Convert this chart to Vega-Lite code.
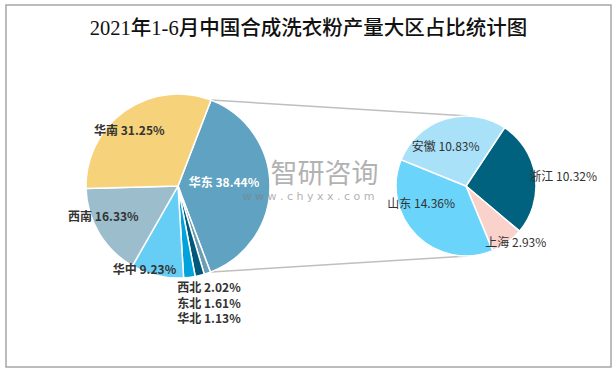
{
  "$schema": "https://vega.github.io/schema/vega-lite/v6.json",
  "width": 616,
  "height": 372,
  "autosize": {"type": "fit", "contains": "padding"},
  "padding": {"left": 6, "top": 5, "right": 5, "bottom": 5},
  "background": "white",
  "title": {
    "text": "2021年1-6月中国合成洗衣粉产量大区占比统计图",
    "font": "Liberation Serif, Noto Sans CJK SC",
    "fontSize": 20.5,
    "fontWeight": 500,
    "color": "#111111",
    "offset": -34,
    "anchor": "middle",
    "frame": "group"
  },
  "config": {"view": {"stroke": "#a6a6a6", "strokeWidth": 1.5}},
  "datasets": {
    "regions": [
      {"region": "华东", "share": 38.44, "rank": 1},
      {"region": "华北", "share": 1.13, "rank": 2},
      {"region": "东北", "share": 1.61, "rank": 3},
      {"region": "西北", "share": 2.02, "rank": 4},
      {"region": "华中", "share": 9.23, "rank": 5},
      {"region": "西南", "share": 16.33, "rank": 6},
      {"region": "华南", "share": 31.25, "rank": 7}
    ],
    "east": [
      {"region": "浙江", "share": 10.32, "rank": 1},
      {"region": "上海", "share": 2.93, "rank": 2},
      {"region": "山东", "share": 14.36, "rank": 3},
      {"region": "安徽", "share": 10.83, "rank": 4}
    ]
  },
  "layer": [
    {
      "data": {"values": [{"edge": "top"}]},
      "mark": {"type": "rule", "color": "#bfbfbf", "strokeWidth": 1.5, "xOffset": 33, "x2Offset": 2},
      "encoding": {
        "x": {"datum": "全国", "type": "nominal", "scale": {"type": "point", "domain": ["全国", "华东"], "range": [172, 460], "padding": 0}, "axis": null},
        "x2": {"datum": "华东"},
        "y": {"value": {"expr": "height/2-86"}},
        "y2": {"value": {"expr": "height/2-70"}}
      }
    },
    {
      "data": {"values": [{"edge": "bottom"}]},
      "mark": {"type": "rule", "color": "#bfbfbf", "strokeWidth": 1.5, "xOffset": 33, "x2Offset": 2},
      "encoding": {
        "x": {"datum": "全国", "type": "nominal", "axis": null},
        "x2": {"datum": "华东"},
        "y": {"value": {"expr": "height/2+86"}},
        "y2": {"value": {"expr": "height/2+70"}}
      }
    },
    {
      "data": {"name": "regions"},
      "transform": [{"calculate": "datum.region + ' ' + format(datum.share, '.2f') + '%'", "as": "label"}],
      "encoding": {
        "x": {"datum": "全国", "type": "nominal", "axis": null},
        "theta": {"field": "share", "type": "quantitative", "stack": true, "scale": {"range": [0.3665, 6.6497]}},
        "order": {"field": "rank", "type": "quantitative", "sort": "ascending"}
      },
      "layer": [
        {
          "mark": {"type": "arc", "radius": 92, "stroke": "white", "strokeWidth": 1.5},
          "encoding": {
            "color": {"field": "region", "type": "nominal", "legend": null,
              "scale": {"domain": ["华东", "华北", "东北", "西北", "华中", "西南", "华南"],
                        "range": ["#5fa2c2", "#6b9db3", "#00597a", "#00a3dc", "#66cdf5", "#9bbdcc", "#f6d37a"]}}
          }
        },
        {
          "mark": {"type": "text", "radius": 46, "dy": -3, "fill": "white", "font": "Noto Sans CJK SC", "fontSize": 12, "fontWeight": "bold"},
          "encoding": {
            "detail": {"field": "region"},
            "text": {"condition": {"test": "datum.region === '华东'", "field": "label"}, "value": ""}
          }
        },
        {
          "mark": {"type": "text", "radius": 74, "dx": -6, "dy": 5, "fill": "#333333", "font": "Noto Sans CJK SC", "fontSize": 12, "fontWeight": "bold"},
          "encoding": {
            "detail": {"field": "region"},
            "text": {"condition": {"test": "datum.region === '华南'", "field": "label"}, "value": ""}
          }
        },
        {
          "mark": {"type": "text", "radius": 80, "dx": -6, "dy": -10, "fill": "#333333", "font": "Noto Sans CJK SC", "fontSize": 12, "fontWeight": "bold"},
          "encoding": {
            "detail": {"field": "region"},
            "text": {"condition": {"test": "datum.region === '西南'", "field": "label"}, "value": ""}
          }
        },
        {
          "mark": {"type": "text", "radius": 86, "dx": -14, "fill": "#333333", "font": "Noto Sans CJK SC", "fontSize": 12, "fontWeight": "bold"},
          "encoding": {
            "detail": {"field": "region"},
            "text": {"condition": {"test": "datum.region === '华中'", "field": "label"}, "value": ""}
          }
        },
        {
          "transform": [{"filter": {"field": "region", "oneOf": ["西北", "东北", "华北"]}}],
          "mark": {"type": "text", "dx": 31, "fill": "#333333", "font": "Noto Sans CJK SC", "fontSize": 12, "fontWeight": "bold"},
          "encoding": {
            "theta": null,
            "order": null,
            "y": {"field": "region", "type": "nominal", "axis": null, "scale": {"type": "point", "domain": ["西北", "东北", "华北"], "range": [283, 314], "padding": 0}},
            "text": {"field": "label"}
          }
        }
      ]
    },
    {
      "data": {"name": "east"},
      "transform": [{"calculate": "datum.region + ' ' + format(datum.share, '.2f') + '%'", "as": "label"}],
      "encoding": {
        "x": {"datum": "华东", "type": "nominal", "axis": null},
        "theta": {"field": "share", "type": "quantitative", "stack": true, "scale": {"range": [0.5847, 6.8679]}},
        "order": {"field": "rank", "type": "quantitative", "sort": "ascending"}
      },
      "layer": [
        {
          "mark": {"type": "arc", "radius": 70, "stroke": "white", "strokeWidth": 1.5},
          "encoding": {
            "color": {"field": "region", "type": "nominal", "legend": null,
              "scale": {"domain": ["浙江", "上海", "山东", "安徽"],
                        "range": ["#00627f", "#f9d3cb", "#6ad4fa", "#a9e1f8"]}}
          }
        },
        {
          "mark": {"type": "text", "radius": 64, "align": "left", "fill": "#333333", "font": "Noto Sans CJK SC", "fontSize": 12},
          "encoding": {
            "detail": {"field": "region"},
            "text": {"condition": {"test": "datum.region === '浙江'", "field": "label"}, "value": ""}
          }
        },
        {
          "mark": {"type": "text", "radius": 76, "dx": 5, "dy": -4, "fill": "#333333", "font": "Noto Sans CJK SC", "fontSize": 12},
          "encoding": {
            "detail": {"field": "region"},
            "text": {"condition": {"test": "datum.region === '上海'", "field": "label"}, "value": ""}
          }
        },
        {
          "mark": {"type": "text", "radius": 48, "dx": -11, "dy": -16, "fill": "#333333", "font": "Noto Sans CJK SC", "fontSize": 12},
          "encoding": {
            "detail": {"field": "region"},
            "text": {"condition": {"test": "datum.region === '山东'", "field": "label"}, "value": ""}
          }
        },
        {
          "mark": {"type": "text", "radius": 45, "dx": -7, "dy": 4, "fill": "#333333", "font": "Noto Sans CJK SC", "fontSize": 12},
          "encoding": {
            "detail": {"field": "region"},
            "text": {"condition": {"test": "datum.region === '安徽'", "field": "label"}, "value": ""}
          }
        }
      ]
    },
    {
      "data": {"values": [{"mark": "智研咨询", "site": "w w w . c h y x x . c o m"}]},
      "layer": [
        {
          "mark": {"type": "text", "dx": 16, "dy": -11, "fill": "#808080", "opacity": 0.6, "font": "Noto Sans CJK SC", "fontSize": 27},
          "encoding": {"text": {"field": "mark"}}
        },
        {
          "mark": {"type": "text", "dx": 0, "dy": 11, "fill": "#808080", "opacity": 0.6, "font": "DejaVu Sans", "fontSize": 11},
          "encoding": {"text": {"field": "site"}}
        }
      ]
    }
  ],
  "resolve": {"scale": {"theta": "independent", "color": "independent"}}
}
